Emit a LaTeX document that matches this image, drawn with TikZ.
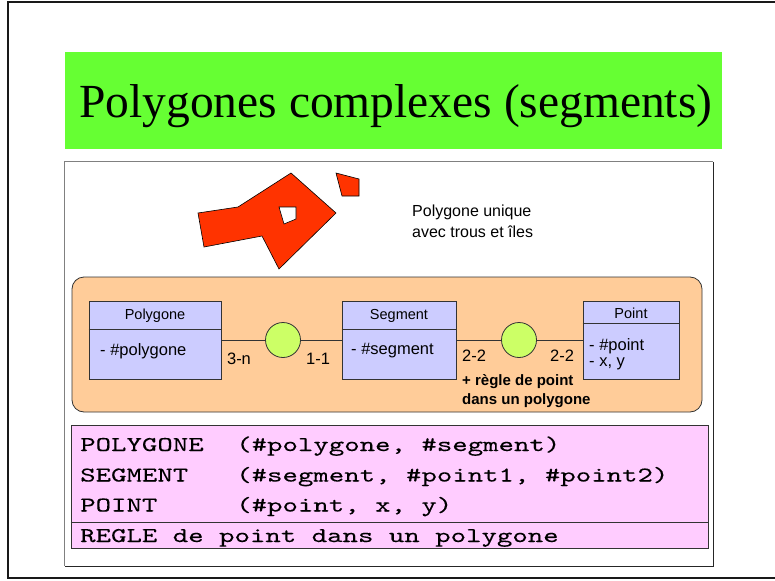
\documentclass[tikz,border=0pt]{standalone}
\usepackage{fontspec}
\usepackage{graphicx}
\setmainfont{Liberation Sans}
\newfontfamily\titlefont{Liberation Serif}
\newfontfamily\tabfont[FakeBold=0.1]{lmmono10-regular.otf}

\definecolor{titlegreen}{HTML}{66FF33}
\definecolor{polyred}{HTML}{FF3300}
\definecolor{erpeach}{HTML}{FFCC99}
\definecolor{classblue}{HTML}{CCCCFF}
\definecolor{assocgreen}{HTML}{CCFF66}
\definecolor{tablepink}{HTML}{FFCCFF}
\definecolor{edge}{HTML}{333333}

% wide typewriter text for the relational schema
\newcommand{\monotxt}[1]{\scalebox{1.4}[1]{\tabfont\fontsize{21}{24}\selectfont #1}}

\tikzset{
  classbox/.style={draw=edge, fill=classblue, line width=0.8pt, inner sep=0pt},
  assoc/.style={circle, draw=edge, fill=assocgreen, line width=0.8pt, minimum size=35pt, inner sep=0pt},
  link/.style={draw=edge, line width=0.8pt},
  classname/.style={inner sep=0pt, font=\fontsize{14.5}{17}\selectfont},
  attr/.style={inner sep=0pt, anchor=west, font=\fontsize{16.5}{19}\selectfont},
  card/.style={inner sep=0pt, font=\fontsize{16.5}{19}\selectfont},
  note/.style={inner sep=0pt, anchor=base west, font=\fontsize{16}{19}\selectfont},
  rulenote/.style={inner sep=0pt, anchor=base west, font=\bfseries\fontsize{15}{18}\selectfont},
  tabline/.style={inner sep=0pt, anchor=base west},
}

\begin{document}
\begin{tikzpicture}[x=1pt, y=-1pt]
\useasboundingbox (0,0) rectangle (775,580);

% slide border
\draw[line width=2.2pt, black!90] (8,2) rectangle (790,578);

% title band
\node[fill=titlegreen, minimum width=657pt, minimum height=97pt, inner sep=0pt] (titleband) at (393.5,100.5) {};
\node[anchor=base west, inner sep=0pt, font=\titlefont\fontsize{47.5}{52}\selectfont] (title) at (79,118) {Polygones complexes (segments)};

% content frame with raised edges
\node[minimum width=648pt, minimum height=404pt, inner sep=0pt] (frame) at (389,364) {};
\draw[black!50, line width=1pt] (frame.south west) -- (frame.north west) -- (frame.north east);
\draw[black!85, line width=1.3pt] (frame.north east) -- (frame.south east) -- (frame.south west);

% example polygon with a hole and an island
\filldraw[fill=polyred, draw=black, line width=0.6pt]
  (198,213) -- (238,207) -- (291,173) -- (336,213) -- (279,269) -- (262,236) -- (204,247) -- cycle;
\filldraw[fill=white, draw=black, line width=0.6pt]
  (279,207) -- (296,207) -- (296,219) -- (284,224) -- cycle;
\filldraw[fill=polyred, draw=black, line width=0.6pt]
  (336,173) -- (359,179) -- (359,196) -- (342,196) -- cycle;

\node[note] (n1) at (412,216) {Polygone unique};
\node[note] (n2) at (412,237) {avec trous et îles};

% entity-relationship panel
\node[draw=edge, fill=erpeach, rounded corners=12pt, line width=0.8pt,
      minimum width=630pt, minimum height=135pt, inner sep=0pt] (er) at (387,344.5) {};

\node[classbox, minimum width=132pt, minimum height=78pt] (poly) at (155,340) {};
\node[classbox, minimum width=114pt, minimum height=78pt] (seg) at (399,340) {};
\node[classbox, minimum width=96pt, minimum height=78pt] (pt) at (631,340) {};

\draw[link] (poly.west |- 0,329) -- ([xshift=1pt]poly.east |- 0,329);
\draw[link] (seg.west |- 0,329) -- ([xshift=1pt]seg.east |- 0,329);
\draw[link] (pt.west |- 0,323) -- ([xshift=1pt]pt.east |- 0,323);

\node[classname] (polyname) at (155,316) {Polygone};
\node[classname] (segname) at (399,316) {Segment};
\node[classname] (ptname) at (631,313) {Point};

\node[attr] (polyattr) at (100,351) {- \#polygone};
\node[attr] (segattr) at (351,351) {- \#segment};
\node[attr] (ptattr1) at (589,346) {- \#point};
\node[attr] (ptattr2) at (589,364) {- x, y};

\node[assoc] (a1) at (283,340) {};
\node[assoc] (a2) at (519,340) {};

\draw[link] (poly) -- (a1);
\draw[link] (a1) -- (seg);
\draw[link] (seg) -- (a2);
\draw[link] (a2) -- (pt);

\node[card] (c1) at (239,359) {3-n};
\node[card] (c2) at (318,359) {1-1};
\node[card] (c3) at (474,356) {2-2};
\node[card] (c4) at (562,356) {2-2};

\node[rulenote] (r1) at (462,385) {+ règle de point};
\node[rulenote] (r2) at (462,404) {dans un polygone};

% relational schema
\node[draw=edge, fill=tablepink, line width=0.8pt, minimum width=637pt, minimum height=123pt, inner sep=0pt] (schema) at (389.5,486.5) {};
\draw[edge, line width=0.8pt] (schema.west |- 0,522) -- (schema.east |- 0,522);

\node[tabline] (t1a) at (80,451) {\monotxt{POLYGONE}};
\node[tabline] (t1b) at (236,451) {\monotxt{(\#polygone, \#segment)}};
\node[tabline] (t2a) at (80,481.5) {\monotxt{SEGMENT}};
\node[tabline] (t2b) at (236,481.5) {\monotxt{(\#segment, \#point1, \#point2)}};
\node[tabline] (t3a) at (80,511.5) {\monotxt{POINT}};
\node[tabline] (t3b) at (236,511.5) {\monotxt{(\#point, x, y)}};
\node[tabline] (t4) at (80,542) {\monotxt{REGLE de point dans un polygone}};
\end{tikzpicture}
\end{document}
